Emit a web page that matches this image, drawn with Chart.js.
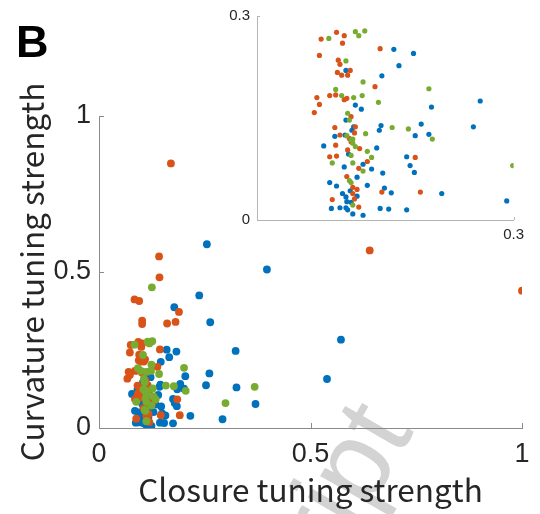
<!DOCTYPE html>
<html lang="en">
<head>
  <meta charset="UTF-8" />
  <title>Curvature vs closure tuning strength</title>
  <script src="https://cdn.jsdelivr.net/npm/chart.js"></script>
  <style>
    html, body { margin: 0; padding: 0; background: #fff; }
    body { width: 540px; height: 514px; position: relative; overflow: hidden; }
    #panel { position: absolute; left: 16px; top: 19px; font: bold 45px "Liberation Sans", Arial, sans-serif; line-height: 1; color: #000; }
    #wm { position: absolute; left: 430px; top: 440px; width: 0; height: 0; transform: rotate(-60deg); transform-origin: 0 0; }
    #wm span { position: absolute; right: 0; bottom: 0; font: 112px "Liberation Sans", Arial, sans-serif; line-height: 1; color: #d3d3d3; white-space: nowrap; }
    #mainBox { position: absolute; left: 0; top: 0; }
    #insetBox { position: absolute; left: 200px; top: 0; }
  </style>
</head>
<body>
  <div id="wm"><span>Manuscript</span></div>
  <div id="mainBox"><canvas id="mainChart" width="540" height="514"></canvas></div>
  <div id="insetBox"><canvas id="insetChart" width="330" height="245"></canvas></div>
  <div id="panel">B</div>

<script>
  // --- data ---
  const xLabel = "Closure tuning strength";
  const yLabel = "Curvature tuning strength";

  const mainXTicks = [0, 0.5, 1];
  const mainYTicks = [0, 0.5, 1];
  const insetXTicks = [0, 0.3];
  const insetYTicks = [0, 0.3];

  const blueX = [0.160, 0.183, 0.166, 0.146, 0.104, 0.115, 0.122, 0.204, 0.261, 0.104, 0.113, 0.145, 0.143, 0.192, 0.253,
    0.185, 0.201, 0.091, 0.103, 0.078, 0.111, 0.140, 0.107, 0.175, 0.179, 0.184, 0.124, 0.134, 0.102, 0.147,
    0.117, 0.085, 0.093, 0.129, 0.149, 0.109, 0.157, 0.216, 0.100, 0.104, 0.117, 0.105, 0.110, 0.087, 0.097,
    0.104, 0.106, 0.144, 0.154, 0.175, 0.112, 0.124, 0.292,
    0.255, 0.397, 0.237, 0.178, 0.263, 0.323, 0.325, 0.370, 0.572, 0.539];
  const blueY = [0.251, 0.245, 0.227, 0.212, 0.220, 0.169, 0.163, 0.166, 0.175, 0.147, 0.137, 0.139, 0.132, 0.141, 0.137,
    0.124, 0.126, 0.123, 0.125, 0.109, 0.132, 0.106, 0.097, 0.093, 0.080, 0.070, 0.082, 0.075, 0.078, 0.069,
    0.063, 0.055, 0.050, 0.051, 0.047, 0.043, 0.040, 0.039, 0.039, 0.034, 0.035, 0.027, 0.026, 0.017, 0.018,
    0.018, 0.015, 0.017, 0.016, 0.015, 0.009, 0.007, 0.028,
    0.589, 0.508, 0.425, 0.387, 0.339, 0.247, 0.130, 0.077, 0.283, 0.157];

  const orangeX = [0.075, 0.093, 0.102, 0.100, 0.144, 0.073, 0.095, 0.097, 0.094, 0.099, 0.109, 0.106, 0.138, 0.085, 0.092,
    0.070, 0.073, 0.067, 0.102, 0.105, 0.110, 0.091, 0.115, 0.097, 0.114, 0.092, 0.108, 0.110, 0.106, 0.120,
    0.085, 0.093, 0.129, 0.119, 0.185, 0.105, 0.112, 0.117, 0.112, 0.146, 0.191, 0.088, 0.114, 0.119,
    0.170, 0.640, 1.000, 0.142, 0.143, 0.084, 0.095, 0.189, 0.102, 0.102, 0.161, 0.181];
  const orangeY = [0.266, 0.276, 0.271, 0.260, 0.252, 0.242, 0.235, 0.229, 0.217, 0.213, 0.220, 0.213, 0.196, 0.183, 0.184,
    0.180, 0.170, 0.158, 0.177, 0.179, 0.152, 0.136, 0.137, 0.125, 0.128, 0.110, 0.120, 0.115, 0.103, 0.105,
    0.093, 0.094, 0.086, 0.076, 0.092, 0.064, 0.048, 0.045, 0.039, 0.041, 0.041, 0.030, 0.031, 0.019,
    0.848, 0.569, 0.440, 0.550, 0.483, 0.412, 0.407, 0.372, 0.344, 0.333, 0.335, 0.340];

  const greenX = [0.084, 0.115, 0.119, 0.126, 0.104, 0.124, 0.201, 0.092, 0.099, 0.113, 0.123, 0.142, 0.106, 0.108, 0.158,
    0.177, 0.127, 0.105, 0.110, 0.112, 0.115, 0.112, 0.205, 0.129, 0.134, 0.110, 0.088, 0.112, 0.124, 0.108,
    0.110, 0.112, 0.299,
    0.125, 0.368];
  const greenY = [0.267, 0.277, 0.271, 0.278, 0.234, 0.203, 0.193, 0.192, 0.183, 0.180, 0.183, 0.173, 0.157, 0.147, 0.136,
    0.134, 0.127, 0.124, 0.118, 0.113, 0.108, 0.119, 0.119, 0.101, 0.092, 0.095, 0.084, 0.084, 0.072, 0.058,
    0.055, 0.022, 0.080,
    0.451, 0.132];

  const BLUE = "#0072BD", ORANGE = "#D95319", GREEN = "#77AC30";
  const TEXT = "#262626";
  const TICK_FONT = "'Liberation Sans', Arial, sans-serif";
  const TITLE_FONT = "'Noto Sans CJK JP', 'Noto Sans', sans-serif";

  function points(xs, ys, lim) {
    const out = [];
    xs.forEach((x, i) => {
      if (lim === undefined || (x <= lim && ys[i] <= lim)) out.push({ x: x, y: ys[i] });
    });
    return out;
  }

  // first dataset is drawn on top in Chart.js, so green goes first
  function makeSets(radius, lim) {
    return [
      { data: points(greenX, greenY, lim), backgroundColor: GREEN },
      { data: points(orangeX, orangeY, lim), backgroundColor: ORANGE },
      { data: points(blueX, blueY, lim), backgroundColor: BLUE }
    ].map(ds => Object.assign(ds, { pointRadius: radius, borderWidth: 0, pointBorderWidth: 0 }));
  }

  // MATLAB-style ticks pointing into the axes
  const inwardTicks = {
    id: "inwardTicks",
    afterDraw(chart, args, opts) {
      const { ctx, chartArea } = chart;
      const xs = chart.scales.x, ys = chart.scales.y;
      ctx.save();
      ctx.strokeStyle = opts.color;
      ctx.lineWidth = 1;
      xs.ticks.forEach(t => {
        const px = Math.round(xs.getPixelForValue(t.value)) + 0.5;
        ctx.beginPath();
        ctx.moveTo(px, chartArea.bottom);
        ctx.lineTo(px, chartArea.bottom - opts.len);
        ctx.stroke();
      });
      ys.ticks.forEach(t => {
        const py = Math.round(ys.getPixelForValue(t.value)) + 0.5;
        ctx.beginPath();
        ctx.moveTo(chartArea.left, py);
        ctx.lineTo(chartArea.left + opts.len, py);
        ctx.stroke();
      });
      ctx.restore();
    }
  };

  function axis(min, max, tickVals, size, color, extra) {
    return Object.assign({
      type: "linear",
      min: min,
      max: max,
      afterBuildTicks: s => { s.ticks = tickVals.map(v => ({ value: v })); },
      grid: { display: false, drawTicks: false },
      border: { display: true, color: color, width: 1 },
      ticks: { font: { family: TICK_FONT, size: size }, color: TEXT, callback: v => String(v) }
    }, extra);
  }

  const mainX = axis(0, 1, mainXTicks, 27, "#8a8a8a", {
    afterFit: s => { s.height = 86; },
    title: { display: true, text: xLabel, color: TEXT, font: { family: TITLE_FONT, size: 31.5 }, padding: { top: 0, bottom: 5 } }
  });
  mainX.ticks.padding = 10;
  const mainY = axis(0, 1, mainYTicks, 27, "#8a8a8a", {
    afterFit: s => { s.width = 99; },
    title: { display: true, text: yLabel, color: TEXT, font: { family: TITLE_FONT, size: 31.5 }, padding: { top: 13, bottom: 0 } }
  });
  mainY.ticks.padding = 8;

  new Chart(document.getElementById("mainChart"), {
    type: "scatter",
    data: { datasets: makeSets(3.9) },
    options: {
      responsive: false,
      animation: false,
      events: [],
      layout: { padding: { left: 0, right: 18, top: 116, bottom: 0 } },
      plugins: { legend: { display: false }, tooltip: { enabled: false }, inwardTicks: { color: "#8a8a8a", len: 5 } },
      scales: { x: mainX, y: mainY }
    },
    plugins: [inwardTicks]
  });

  const insetX = axis(0, 0.3, insetXTicks, 15, "#b4b4b4", { afterFit: s => { s.height = 25; } });
  insetX.ticks.padding = 6;
  insetX.ticks.callback = v => (v === 0 ? "" : String(v));
  const insetY = axis(0, 0.3, insetYTicks, 15, "#b4b4b4", { afterFit: s => { s.width = 57; } });
  insetY.ticks.padding = 7;

  new Chart(document.getElementById("insetChart"), {
    type: "scatter",
    data: { datasets: makeSets(2.6, 0.3) },
    options: {
      responsive: false,
      animation: false,
      events: [],
      layout: { padding: { left: 0, right: 14, top: 16, bottom: 0 } },
      plugins: { legend: { display: false }, tooltip: { enabled: false }, inwardTicks: { color: "#b4b4b4", len: 3 } },
      scales: { x: insetX, y: insetY }
    },
    plugins: [inwardTicks]
  });
</script>
</body>
</html>
